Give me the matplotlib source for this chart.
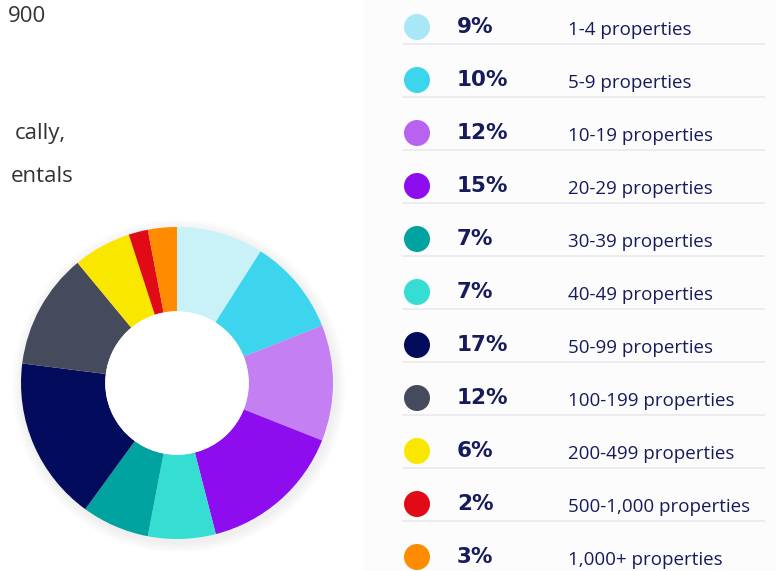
import matplotlib
matplotlib.use("Agg")
import matplotlib.pyplot as plt
from matplotlib.patches import Circle, Rectangle

categories = ["1-4 properties", "5-9 properties", "10-19 properties", "20-29 properties",
              "30-39 properties", "40-49 properties", "50-99 properties", "100-199 properties",
              "200-499 properties", "500-1,000 properties", "1,000+ properties"]
shares = [9, 10, 12, 15, 7, 7, 17, 12, 6, 2, 3]
# donut colours as drawn in the reference (the two 7% wedges appear swapped there)
wedge_colors = ["#c8f2f8", "#3dd5ee", "#c47ff2", "#8e0def", "#35ddd3", "#00a39f",
                "#030c5c", "#454a5d", "#fae700", "#e10a17", "#ff8b00"]
dot_colors = ["#a8e7f6", "#3dd5ee", "#b763f0", "#8e0def", "#00a39f", "#35ddd3",
              "#030c5c", "#454a5d", "#fae700", "#e10a17", "#ff8b00"]
side_text = ["900", "cally,", "entals"]

W, H = 776, 571
fig = plt.figure(figsize=(W / 100, H / 100), dpi=100)
fig.patch.set_facecolor("white")

bg = fig.add_axes([0, 0, 1, 1])
bg.set_xlim(0, W)
bg.set_ylim(H, 0)
bg.axis("off")
bg.add_patch(Rectangle((364, 0), W - 364, H, facecolor="#fcfcfc", edgecolor="none", zorder=0))

navy = "#161b5b"
bg.text(46, 17, side_text[0], fontsize=16, family="Open Sans", color="#333333", va="center", ha="right")
bg.text(66, 133, side_text[1], fontsize=16, family="Open Sans", color="#333333", va="center", ha="right")
bg.text(74, 176, side_text[2], fontsize=16, family="Open Sans", color="#333333", va="center", ha="right")

y0, dy = 27, 53
for i, (cat, s) in enumerate(zip(categories, shares)):
    y = y0 + i * dy
    bg.add_patch(Circle((417, y), 13, facecolor=dot_colors[i], edgecolor="none", zorder=2))
    bg.text(457, y, f"{s}%", fontsize=15.5, fontweight="bold", family="DejaVu Sans", color=navy,
            va="center", ha="left")
    bg.text(568, y + 3, cat, fontsize=13.5, family="Open Sans", color=navy,
            va="center", ha="left")
    if i < len(categories) - 1:
        bg.plot([403, 764], [y + 17, y + 17], color="#e8e8ee", lw=1.2, zorder=1)

cx, cy, r = 177, 383, 156
pad = 1.08
ax = fig.add_axes([(cx - r * pad) / W, (H - cy - r * pad) / H, 2 * r * pad / W, 2 * r * pad / H])
ax.set_xlim(-pad, pad)
ax.set_ylim(-pad, pad)
ax.set_aspect("equal")
ax.axis("off")
for k in range(8):
    ax.add_patch(Circle((0.012, -0.02), 1.0 + 0.009 * (8 - k), facecolor="#000000",
                        alpha=0.008, edgecolor="none", zorder=0))
ax.pie(shares, colors=wedge_colors, startangle=90, counterclock=False,
       radius=1.0, wedgeprops=dict(width=0.54, edgecolor="none", linewidth=0))
ax.add_patch(Circle((0, 0), 0.46, facecolor="white", edgecolor="none", zorder=5))
ax.set_xlim(-pad, pad)
ax.set_ylim(-pad, pad)

fig.savefig("out.png", dpi=100, facecolor="white")
